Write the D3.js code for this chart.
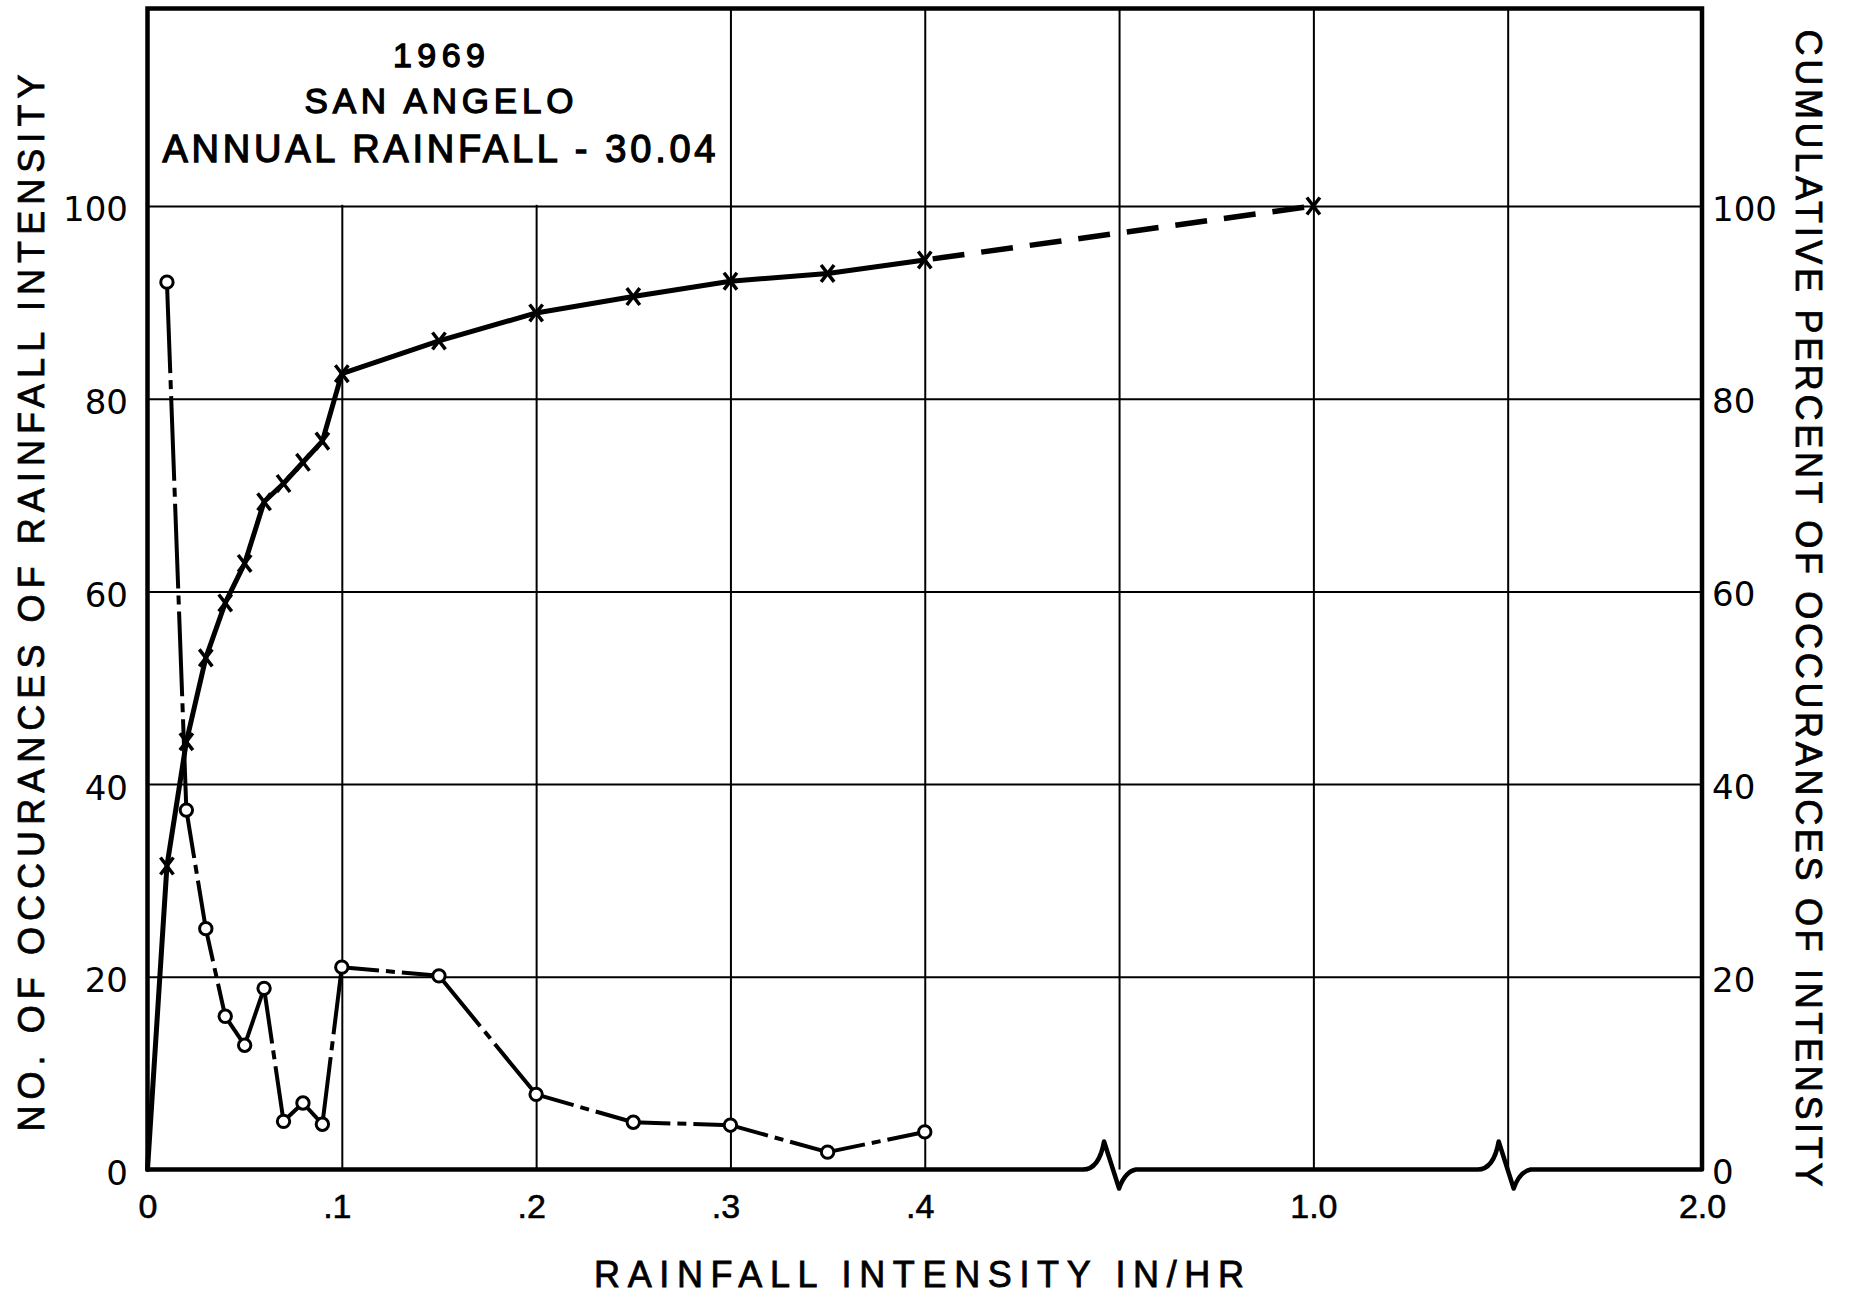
<!DOCTYPE html>
<html>
<head>
<meta charset="utf-8">
<script src="https://cdn.jsdelivr.net/npm/d3@7"></script>
<style>
  html, body { margin: 0; padding: 0; background: #fff; }
  svg { display: block; }
</style>
</head>
<body>
<svg id="chart" width="1852" height="1300"></svg>
<script>
// ---- Data ---------------------------------------------------------------
// Rainfall intensity classes (in/hr) for the occurrence counts
const occIntensity = [0.01, 0.02, 0.03, 0.04, 0.05, 0.06, 0.07, 0.08, 0.09, 0.10,
                      0.15, 0.20, 0.25, 0.30, 0.35, 0.40];
// Number of occurrences of each rainfall intensity
const occCount = [92.1, 37.3, 25.0, 15.9, 12.9, 18.8, 5.0, 6.9, 4.7, 21.0,
                  20.1, 7.8, 4.9, 4.6, 1.8, 3.9];

// Cumulative percent of occurrences (solid part up to .4, dashed to 1.0)
const cumIntensity = [0, 0.01, 0.02, 0.03, 0.04, 0.05, 0.06, 0.07, 0.08, 0.09, 0.10,
                      0.15, 0.20, 0.25, 0.30, 0.35, 0.40, 1.0];
const cumPercent = [0, 31.5, 44.4, 53.1, 58.8, 62.9, 69.3, 71.2, 73.4, 75.6, 82.6,
                    86.0, 88.9, 90.6, 92.2, 93.0, 94.4, 100];

// Axis ticks and labels
const xTickValues = [0, 0.1, 0.2, 0.3, 0.4, 1.0, 2.0];
const xTickLabels = ["0", ".1", ".2", ".3", ".4", "1.0", "2.0"];
const xGridValues = [0.1, 0.2, 0.3, 0.4, 0.5, 1.0, 1.5];
const xBreakValues = [0.5, 1.5];
const yTickValues = [0, 20, 40, 60, 80, 100];
const yGridValues = [20, 40, 60, 80, 100];
const yMax = 120.5;

const titleLines = ["1969", "SAN ANGELO", "ANNUAL RAINFALL - 30.04"];
const xTitle = "RAINFALL INTENSITY IN/HR";
const yLeftTitle = "NO. OF OCCURANCES OF RAINFALL INTENSITY";
const yRightTitle = "CUMULATIVE PERCENT OF OCCURANCES OF INTENSITY";

// ---- Layout -------------------------------------------------------------
const L = 147.5, R = 1702, T = 8.5, B = 1169.5;
const col = (R - L) / 8;
const INK = "#000";
const SANS = "'Liberation Sans', Arial, sans-serif";
const ROUND = "'DejaVu Sans', sans-serif";

const svg = d3.select("#chart");
svg.append("rect").attr("width", 1852).attr("height", 1300).attr("fill", "#fff");

// Broken x axis: 0-.5 on five columns, .5-1.0 on one, 1.0-2.0 on two
const x = d3.scaleLinear()
  .domain([0, 0.5, 1.0, 2.0])
  .range([L, L + 5 * col, L + 6 * col, L + 8 * col]);
const y = d3.scaleLinear().domain([0, yMax]).range([B, T]);

// ---- Grid ---------------------------------------------------------------
const grid = svg.append("g").attr("class", "grid");
grid.append("g")
  .attr("transform", `translate(0,${B})`)
  .call(d3.axisBottom(x).tickValues(xGridValues).tickSize(-(B - T)).tickFormat(""))
  .call(g => g.select(".domain").remove())
  .selectAll("line").attr("stroke", INK).attr("stroke-width", 2);
grid.append("g")
  .attr("transform", `translate(${L},0)`)
  .call(d3.axisLeft(y).tickValues(yGridValues).tickSize(-(R - L)).tickFormat(""))
  .call(g => g.select(".domain").remove())
  .selectAll("line").attr("stroke", INK).attr("stroke-width", 2);

// Clear panel behind the title block (upper-left, above the 100 line)
svg.append("rect")
  .attr("x", L).attr("y", T)
  .attr("width", x(0.3) - L - 1.5)
  .attr("height", y(100) - T - 1.2)
  .attr("fill", "#fff");

// ---- Frame with axis-break marks -----------------------------------------
svg.append("path")
  .attr("d", `M${L},${B}L${L},${T}L${R},${T}L${R},${B}`)
  .attr("fill", "none").attr("stroke", INK).attr("stroke-width", 4.5)
  .attr("stroke-linejoin", "miter");

function breakMark(gx, y0) {
  return `L${gx - 36},${y0}` +
         `Q${gx - 20},${y0} ${gx - 15},${y0 - 28}` +
         `L${gx},${y0 + 19}` +
         `Q${gx + 6},${y0 + 2} ${gx + 17},${y0}`;
}
const breakNudge = [0, 6];
let base = `M${L},${B}`;
xBreakValues.forEach((b, i) => { base += breakMark(x(b) + breakNudge[i], B); });
base += `L${R},${B}`;
svg.append("path")
  .attr("d", base)
  .attr("fill", "none").attr("stroke", INK).attr("stroke-width", 4.5)
  .attr("stroke-linejoin", "round").attr("stroke-linecap", "round");

// ---- Axes labels ----------------------------------------------------------
const xAxis = svg.append("g")
  .attr("transform", `translate(0,${B})`)
  .call(d3.axisBottom(x).tickValues(xTickValues)
    .tickFormat((d, i) => xTickLabels[i]).tickSize(0).tickPadding(24))
  .call(g => g.select(".domain").remove());
xAxis.selectAll("text")
  .attr("font-family", SANS).attr("font-size", 34).attr("fill", INK)
  .attr("stroke", INK).attr("stroke-width", 0.6)
  .attr("dx", (d, i) => xTickLabels[i].startsWith(".") ? -5 : 0);

const yLeft = svg.append("g")
  .attr("transform", `translate(${L},0)`)
  .call(d3.axisLeft(y).tickValues(yTickValues).tickSize(0).tickPadding(19.5))
  .call(g => g.select(".domain").remove());
yLeft.selectAll("text")
  .attr("font-family", ROUND).attr("font-size", 34).attr("fill", INK)
  .attr("dy", "0.44em");

const yRight = svg.append("g")
  .attr("transform", `translate(${R},0)`)
  .call(d3.axisRight(y).tickValues(yTickValues).tickSize(0).tickPadding(10))
  .call(g => g.select(".domain").remove());
yRight.selectAll("text")
  .attr("font-family", ROUND).attr("font-size", 34).attr("fill", INK)
  .attr("dy", "0.42em");

// Axis titles, spread to the length of the lettering
svg.append("text")
  .attr("x", 594).attr("y", 1287)
  .attr("font-family", SANS).attr("font-size", 36).attr("fill", INK)
  .attr("stroke", INK).attr("stroke-width", 0.8)
  .attr("textLength", 650).attr("lengthAdjust", "spacing")
  .text(xTitle);

svg.append("text")
  .attr("transform", "translate(31,603) rotate(-90)")
  .attr("x", -1057 / 2).attr("y", 36 * 0.358)
  .attr("font-family", SANS).attr("font-size", 36).attr("fill", INK)
  .attr("stroke", INK).attr("stroke-width", 0.8)
  .attr("textLength", 1057).attr("lengthAdjust", "spacing")
  .text(yLeftTitle);

svg.append("text")
  .attr("transform", "translate(1809,608) rotate(90)")
  .attr("x", -1157 / 2).attr("y", 36 * 0.358)
  .attr("font-family", SANS).attr("font-size", 36).attr("fill", INK)
  .attr("stroke", INK).attr("stroke-width", 0.8)
  .attr("textLength", 1157).attr("lengthAdjust", "spacing")
  .text(yRightTitle);

// Title block
const titleSpec = [
  { size: 34, baseline: 67, width: 92 },
  { size: 35, baseline: 113, width: 269 },
  { size: 38, baseline: 162, width: 553 }
];
const titleCenter = 439;
svg.append("g").selectAll("text")
  .data(titleLines)
  .join("text")
  .attr("x", (d, i) => titleCenter - titleSpec[i].width / 2)
  .attr("y", (d, i) => titleSpec[i].baseline)
  .attr("font-family", SANS)
  .attr("font-size", (d, i) => titleSpec[i].size)
  .attr("fill", INK)
  .attr("stroke", INK).attr("stroke-width", 1.3)
  .attr("textLength", (d, i) => titleSpec[i].width)
  .attr("lengthAdjust", "spacing")
  .text(d => d);

// ---- Cumulative percent curve ---------------------------------------------
const cumPts = cumIntensity.map((v, i) => [x(v), y(cumPercent[i])]);
const line = d3.line();
const nSolid = cumIntensity.indexOf(0.40) + 1;
svg.append("path")
  .attr("d", line(cumPts.slice(0, nSolid)))
  .attr("fill", "none").attr("stroke", INK).attr("stroke-width", 5)
  .attr("stroke-linejoin", "round").attr("stroke-linecap", "round");
svg.append("path")
  .attr("d", line(cumPts.slice(nSolid - 1)))
  .attr("fill", "none").attr("stroke", INK).attr("stroke-width", 5.5)
  .attr("stroke-dasharray", "32 17").attr("stroke-dashoffset", -8);

// ---- Occurrence curve (dash-dot, pattern restarted on each leg) ------------
const occPts = occIntensity.map((v, i) => [x(v), y(occCount[i])]);
const RC = 6.2;
function dashDot(len) {
  const dot = 9, gap = 7;
  const vis = len - 2 * RC;
  const n = Math.round(vis / 120);
  if (vis < 48 || n < 1) return null;
  const dash = (vis - n * (dot + 2 * gap)) / (n + 1);
  const arr = [];
  for (let i = 0; i < n; i++) arr.push(i === 0 ? dash + RC : dash, gap, dot, gap);
  arr.push(dash + RC + 4);
  return arr.map(v => v.toFixed(1)).join(" ");
}
const legs = d3.pairs(occPts);
svg.append("g").selectAll("path")
  .data(legs)
  .join("path")
  .attr("d", d => line(d))
  .attr("fill", "none").attr("stroke", INK).attr("stroke-width", 4)
  .attr("stroke-linecap", "butt")
  .attr("stroke-dasharray", d => dashDot(Math.hypot(d[1][0] - d[0][0], d[1][1] - d[0][1])));

// ---- Markers --------------------------------------------------------------
const tallX = {
  draw(ctx, size) {
    const w = Math.sqrt(size) * 0.55, h = w * 1.3;
    ctx.moveTo(-w, -h); ctx.lineTo(w, h);
    ctx.moveTo(-w, h); ctx.lineTo(w, -h);
  }
};
svg.append("g").selectAll("path")
  .data(cumPts.slice(1))
  .join("path")
  .attr("transform", d => `translate(${d[0]},${d[1]})`)
  .attr("d", d3.symbol(tallX, 140)())
  .attr("fill", "none").attr("stroke", INK).attr("stroke-width", 3.5);

svg.append("g").selectAll("circle")
  .data(occPts)
  .join("circle")
  .attr("cx", d => d[0]).attr("cy", d => d[1]).attr("r", RC)
  .attr("fill", "#fff").attr("stroke", INK).attr("stroke-width", 3);
</script>
</body>
</html>
